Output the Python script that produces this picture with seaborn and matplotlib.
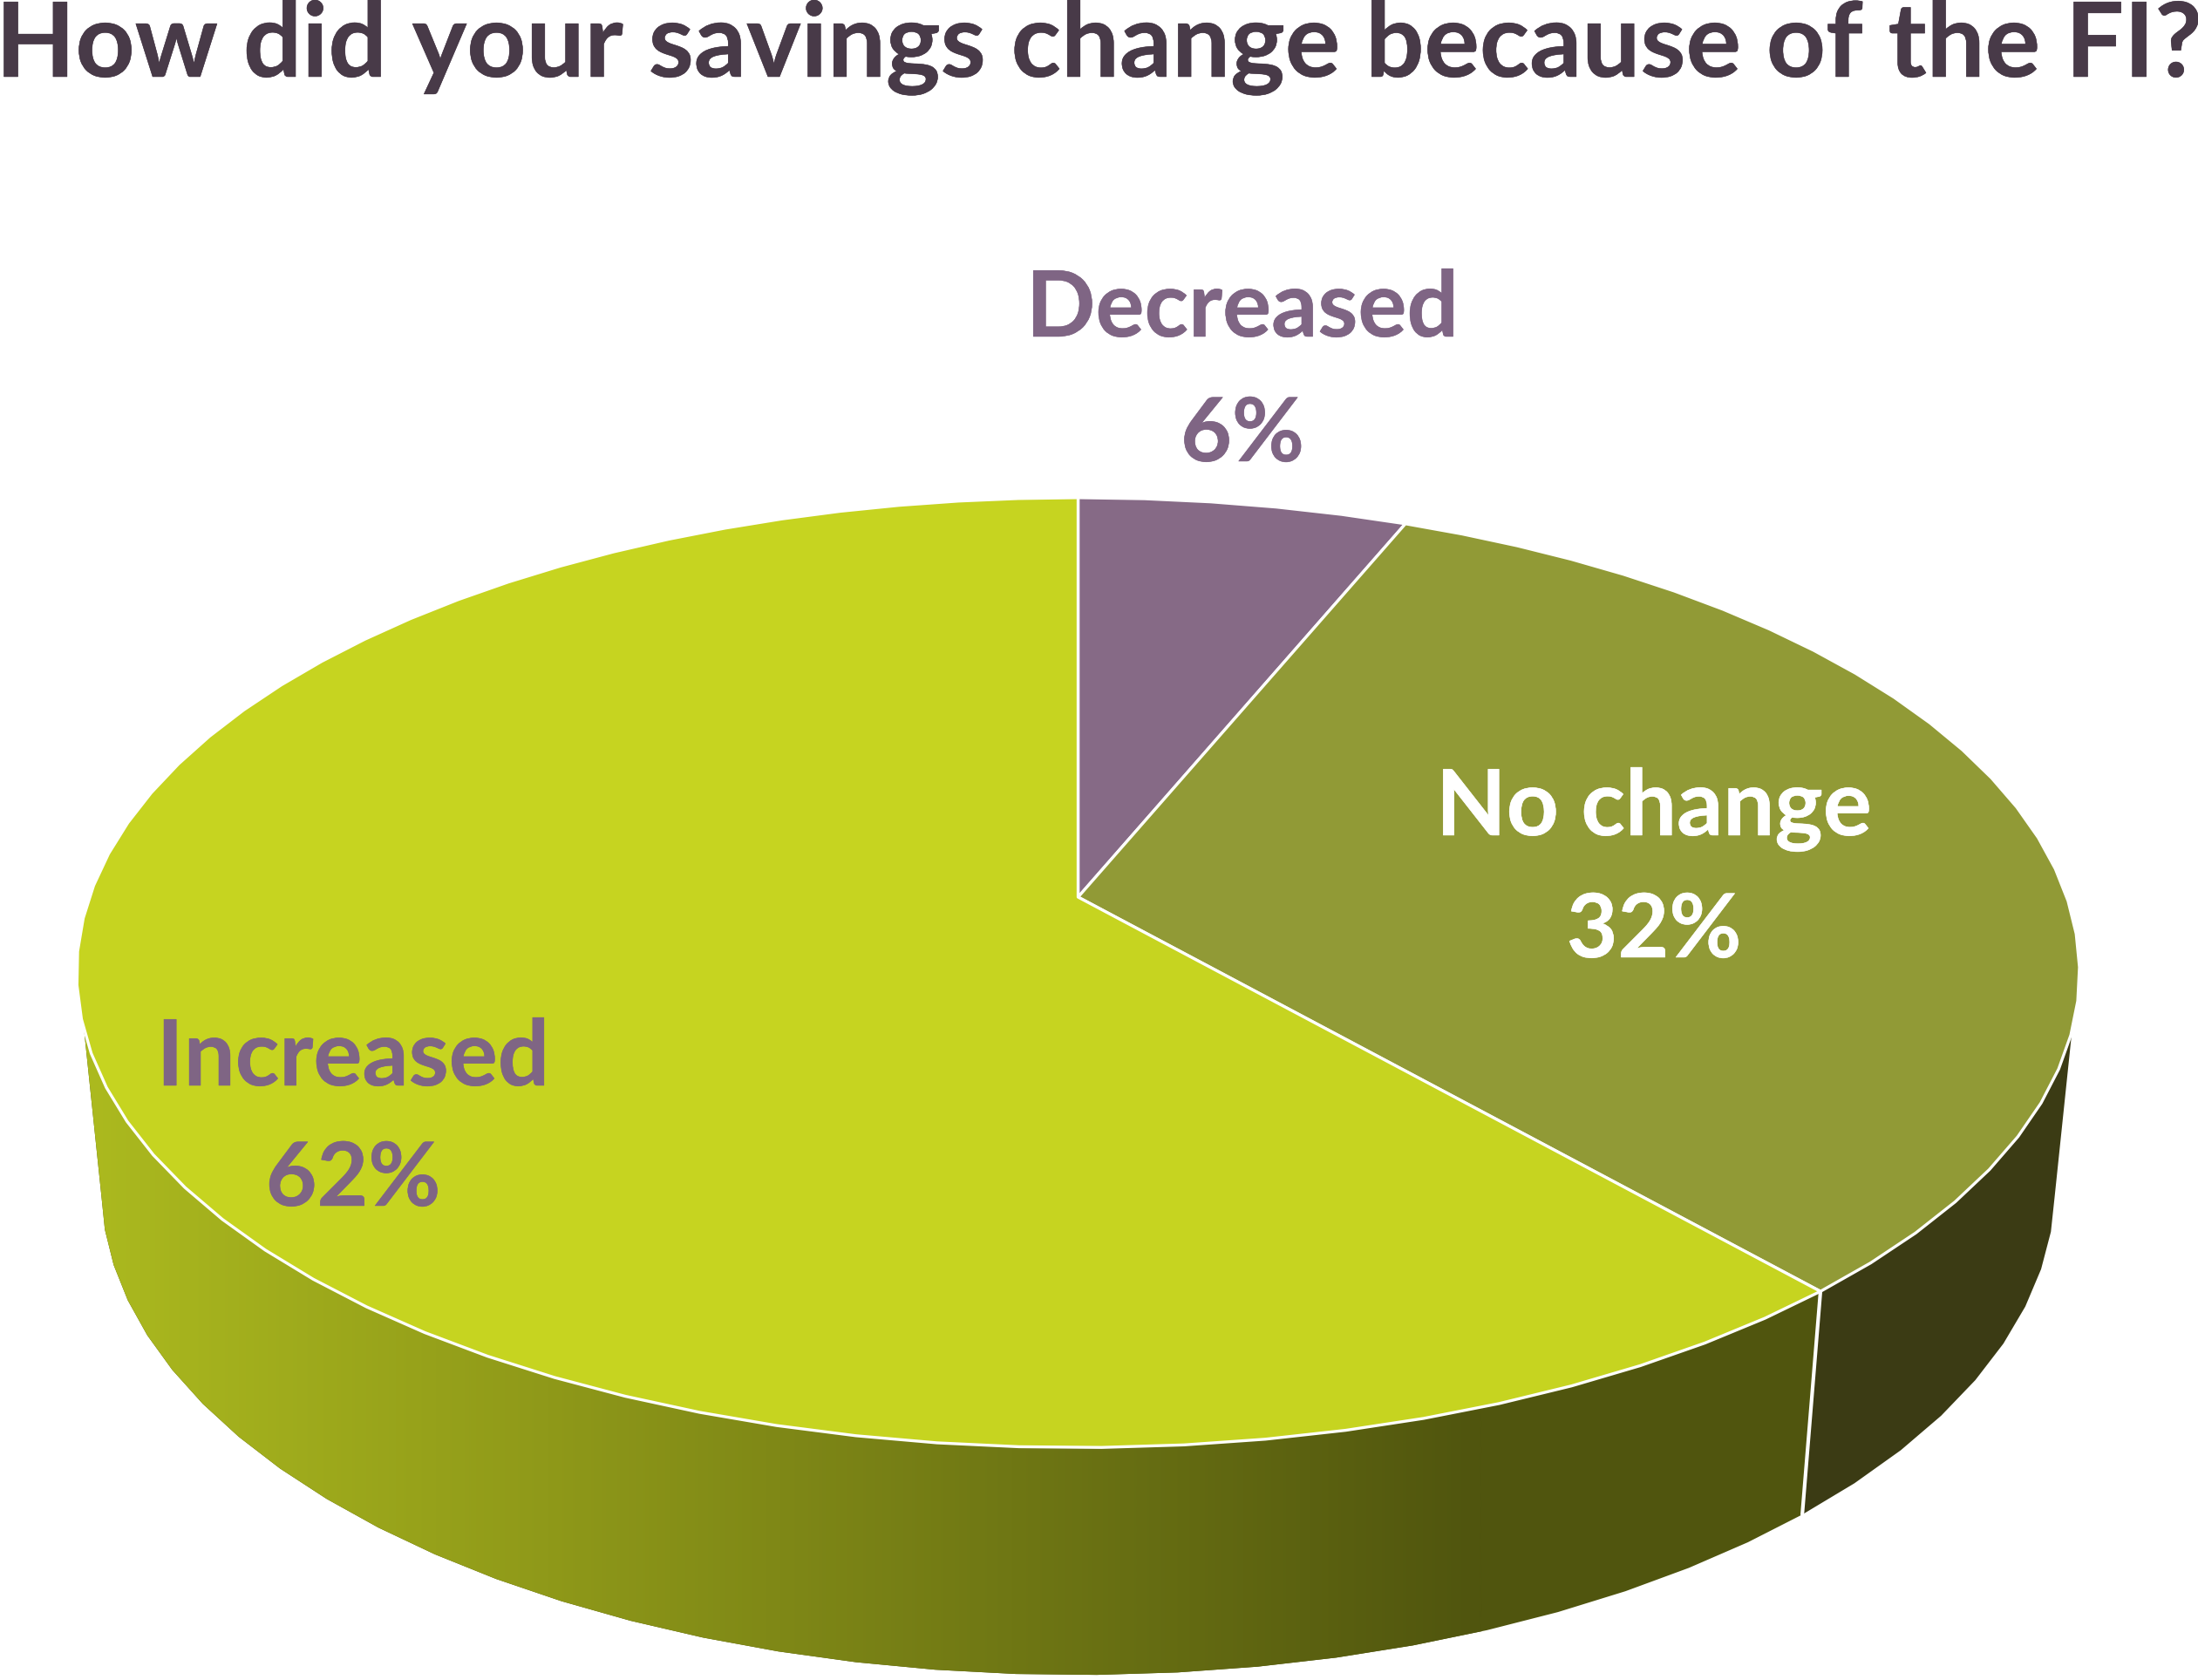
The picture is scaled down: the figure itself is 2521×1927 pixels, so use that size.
# savings_pie.py

import numpy as np
import matplotlib
matplotlib.use("Agg")
import matplotlib.pyplot as plt
import matplotlib.patheffects as pe
import seaborn as sns

# values, clockwise from 12 o'clock
categories = ["Decreased", "No change", "Increased"]
shares = [6.2, 32.3, 61.5]

title = "How did your savings change because of the FI?"

top_colors = ["#866A86", "#919A36", "#C6D420"]
label_colors = ["#7F6584", "#FFFFFF", "#7F6584"]
side_anchor_colors = ["#ACBA1F", "#8F9919", "#6F7714", "#50550E"]
side_dark = "#3B3B14"

# layout, in pixels of the output picture
WIDTH, HEIGHT = 2521, 1927
CX, CY = 1236.5, 1029
RX, RY = 1134, 531
PERSPECTIVE = 0.159
DEPTH_SCALE = 0.9755
DEPTH = 256
DEPTH_SLOPE = 0.027
SEAM_Y = 1481
GRADIENT_X = (90, 1700)
# where the wall starts on the top and bottom rims (degrees, right and left)
WALL_TOP = np.radians((106, 254))
WALL_BOTTOM = np.radians((100, 260))
LABEL_POS = [(1425, 386, 529), (1897, 958, 1098), (405, 1245, 1383)]


def top_rim(theta):
    """Project points of the round top face, theta clockwise from 12 o'clock."""
    u, v = np.sin(theta), np.cos(theta)
    w = 1 + PERSPECTIVE * v
    return CX + RX * u / w, CY - RY * v / w


def bottom_rim(theta):
    x, y = top_rim(theta)
    return CX + (x - CX) * DEPTH_SCALE, y + DEPTH + DEPTH_SLOPE * (y - SEAM_Y)


def facets(start, stop):
    n = max(int(np.degrees(stop - start) / 4), 2)
    return np.linspace(start, stop, n + 1)


def bold_text(ax, x, y, text, size, color, stroke=0.35):
    ax.text(x, y, text, fontsize=size, fontweight="bold", color=color,
            ha="center", va="baseline", zorder=4,
            path_effects=[pe.withStroke(linewidth=stroke, foreground=color)])


def main() -> None:
    sns.set_theme(style="white")
    plt.rcParams["font.family"] = ["Lato", "DejaVu Sans"]

    fig = plt.figure(figsize=(WIDTH / 100, HEIGHT / 100), dpi=100)
    ax = fig.add_axes([0, 0, 1, 1])

    palette = sns.blend_palette(side_anchor_colors, n_colors=200)
    edges = np.radians(np.cumsum([0] + shares) * 3.6)

    # side wall first, the top face goes over it
    for i, name in enumerate(categories):
        if edges[i + 1] <= WALL_BOTTOM[0]:
            continue
        top = facets(max(edges[i], WALL_TOP[0]), min(edges[i + 1], WALL_TOP[1]))
        bottom = facets(max(edges[i], WALL_BOTTOM[0]), min(edges[i + 1], WALL_BOTTOM[1]))
        x0, y0 = top_rim(top)
        x1, y1 = bottom_rim(bottom[::-1])
        color = side_dark if name == "No change" else side_anchor_colors[-1]
        wall = ax.fill(np.r_[x0, x1], np.r_[y0, y1], color=color, lw=0, zorder=1)[0]
        if name == "Increased":
            strip = ax.imshow(np.array(palette)[None, :, :], aspect="auto", zorder=1.5,
                              extent=(GRADIENT_X[0], GRADIENT_X[1], HEIGHT, 0),
                              interpolation="bilinear")
            strip.set_clip_path(wall)

    # white seam on the wall between the two front slices
    x0, y0 = top_rim(edges[2])
    x1, y1 = bottom_rim(edges[2])
    ax.plot([x0, x1], [y0, y1], color="white", lw=3, zorder=2)

    for i in range(len(shares)):
        x, y = top_rim(facets(edges[i], edges[i + 1]))
        ax.fill(np.r_[CX, x], np.r_[CY, y], facecolor=top_colors[i],
                edgecolor="white", lw=2.4, joinstyle="round", zorder=3)

    bold_text(ax, 1260, 88, title, 85.5, "#483A48")

    for name, share, color, (x, y_name, y_pct) in zip(categories, shares, label_colors, LABEL_POS):
        bold_text(ax, x, y_name, name, 75.5, color)
        bold_text(ax, x, y_pct, f"{share:.0f}%", 73, color)

    ax.set_xlim(0, WIDTH)
    ax.set_ylim(HEIGHT, 0)
    ax.axis("off")

    fig.savefig("out.png", dpi=100, facecolor="white")
    plt.close(fig)


if __name__ == "__main__":
    main()
